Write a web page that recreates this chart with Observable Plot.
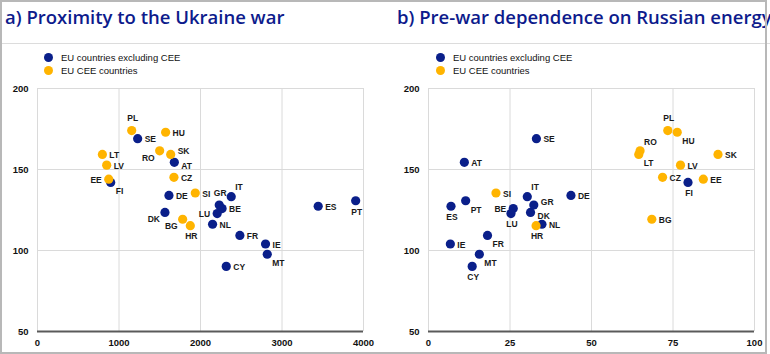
<!DOCTYPE html>
<html><head><meta charset="utf-8">
<script src="https://cdn.jsdelivr.net/npm/d3@7"></script>
<script src="https://cdn.jsdelivr.net/npm/@observablehq/plot@0.6"></script>
<style>
body{margin:0;background:#fff;}
#wrap{position:relative;width:770px;height:354px;overflow:hidden;background:#fff;font-family:"Liberation Sans",Arial,sans-serif;}
#frame{position:absolute;left:0;top:0;width:763px;height:350px;border:2px solid #b8b8b8;pointer-events:none;z-index:5}
.title{position:absolute;top:4px;font-family:"Open Sans",sans-serif;font-weight:600;font-size:18.5px;color:#0d1b8c;white-space:nowrap;}
.sep{position:absolute;left:0;top:43px;width:770px;height:1px;background:#dcdcdc}
.legend{position:absolute;top:52px;font-size:9.5px;color:#111;}
.legend div{height:12.5px;line-height:12.5px;white-space:nowrap}
.legend span{display:inline-block;width:9px;height:9px;border-radius:50%;vertical-align:-1px}
.panel{position:absolute;top:78px}
</style></head>
<body>
<div id="wrap">
  <div class="title" style="left:5px">a) Proximity to the Ukraine war</div>
  <div class="title" style="left:397px">b) Pre-war dependence on Russian energy</div>
  <div class="sep"></div>
  <div class="legend" id="legA" style="left:44px"></div>
  <div class="legend" id="legB" style="left:436px"></div>
  <div class="panel" id="panA" style="left:0px"></div>
  <div class="panel" id="panB" style="left:385px"></div>
  <div id="frame"></div>
</div>
<script>
// ---- data ----
const countries = ["PL","SE","HU","RO","SK","AT","LT","LV","EE","FI","CZ","DE","SI","DK","BG","HR","GR","IT","BE","LU","NL","FR","IE","MT","CY","ES","PT"];
const isCEE = [1,0,1,1,1,0,1,1,1,0,1,0,1,0,1,1,0,0,0,0,0,0,0,0,0,0,0];
const indexValue = [174,169,173,161.5,159.3,154.4,159.3,152.7,144,142,145.2,134,135.5,123.5,119.3,115.3,128.1,133.2,125.9,122.8,116.2,109.3,104,97.7,90.2,127.3,130.7];
const proximityKm = [1156,1229,1572,1499,1634,1679,796,849,874,898,1674,1613,1936,1564,1781,1875,2230,2377,2265,2205,2148,2483,2798,2819,2316,3444,3904];
const russianEnergyShare = [73.4,33.1,76.3,64.9,88.8,11,64.5,77.3,84.3,79.6,71.8,43.7,20.7,31.3,68.5,33,32.3,30.3,26,25.3,34.8,18.1,6.7,15.6,13.4,6.9,11.4];
const groupNames = ["EU countries excluding CEE","EU CEE countries"];
const yTicks = [50,100,150,200];
const xTicksA = [0,1000,2000,3000,4000];
const xTicksB = [0,25,50,75,100];

// ---- styling / layout (not data) ----
const BLUE = "#0a1f8a", YELLOW = "#ffb400";
const placeA = {PL:"a",SE:"r",HU:"r",RO:"lb",SK:"ru",AT:"rd",LT:"r",LV:"r",EE:"l",FI:"rb",CZ:"r",DE:"r",SI:"r",DK:"lb",BG:"lb",HR:"b",GR:"a",IT:"ra",BE:"r",LU:"l",NL:"r",FR:"r",IE:"r",MT:"rb",CY:"r",ES:"r",PT:"b"};
const placeB = {SE:"r",AT:"r",SI:"r",IT:"ra",DE:"r",GR:"ru",PT:"rb",ES:"b",BE:"l",LU:"b",DK:"rd",NL:"r",HR:"b",FR:"rb",IE:"r",MT:"rb",CY:"b",PL:"a",HU:"rb",RO:"ra",LT:"rb",SK:"r",LV:"r",CZ:"r",EE:"r",FI:"b",BG:"r"};
const offsets = {
  r:{dx:7,dy:1,textAnchor:"start"},
  ru:{dx:7,dy:-3,textAnchor:"start"},
  rd:{dx:7,dy:4,textAnchor:"start"},
  l:{dx:-7,dy:1,textAnchor:"end"},
  a:{dx:1,dy:-12,textAnchor:"middle"},
  b:{dx:1,dy:11,textAnchor:"middle"},
  rb:{dx:5,dy:9,textAnchor:"start"},
  lb:{dx:-5,dy:7,textAnchor:"end"},
  ra:{dx:4,dy:-9,textAnchor:"start"}
};

const rows = countries.map((c,i)=>({c, cee:isCEE[i], y:indexValue[i], prox:proximityKm[i], energy:russianEnergyShare[i]}));

function panel(xKey, xTicks, place, mLeft, mRight){
  const marks = [
    Plot.gridX(xTicks,{stroke:"#dadada",strokeOpacity:1}),
    Plot.gridY(yTicks,{stroke:"#dadada",strokeOpacity:1}),
    Plot.ruleY([50],{stroke:"#5a5a5a",strokeWidth:2}),
    Plot.axisX({ticks:xTicks,tickSize:0,tickPadding:8,tickFormat:d3.format("d"),label:null}),
    Plot.axisY({ticks:yTicks,tickSize:0,tickPadding:9,label:null}),
    Plot.dot(rows.filter(d=>!d.cee),{x:xKey,y:"y",r:4.6,fill:BLUE}),
    Plot.dot(rows.filter(d=>d.cee),{x:xKey,y:"y",r:4.6,fill:YELLOW})
  ];
  for (const k of Object.keys(offsets)) {
    const sub = rows.filter(d=>place[d.c]===k);
    if (sub.length) marks.push(Plot.text(sub,{x:xKey,y:"y",text:"c",fill:"#1a1a1a",fontSize:8.5,fontWeight:"bold",...offsets[k]}));
  }
  return Plot.plot({
    width:385, height:276,
    marginLeft:mLeft, marginRight:mRight, marginTop:10, marginBottom:23,
    x:{domain:[xTicks[0],xTicks[xTicks.length-1]]},
    y:{domain:[50,200]},
    style:{fontFamily:"'Liberation Sans',Arial,sans-serif",fontSize:"9.5px",fontWeight:"bold",color:"#111",background:"transparent",overflow:"visible"},
    marks
  });
}

document.getElementById("panA").appendChild(panel("prox", xTicksA, placeA, 37, 22));
document.getElementById("panB").appendChild(panel("energy", xTicksB, placeB, 43, 16));

for (const id of ["legA","legB"]) {
  const el = document.getElementById(id);
  groupNames.forEach((g,i)=>{
    const row = document.createElement("div");
    const sw = document.createElement("span");
    sw.style.background = i===0?BLUE:YELLOW;
    sw.style.marginRight = "8px";
    row.appendChild(sw);
    row.appendChild(document.createTextNode(g));
    el.appendChild(row);
  });
}
</script>
</body></html>
